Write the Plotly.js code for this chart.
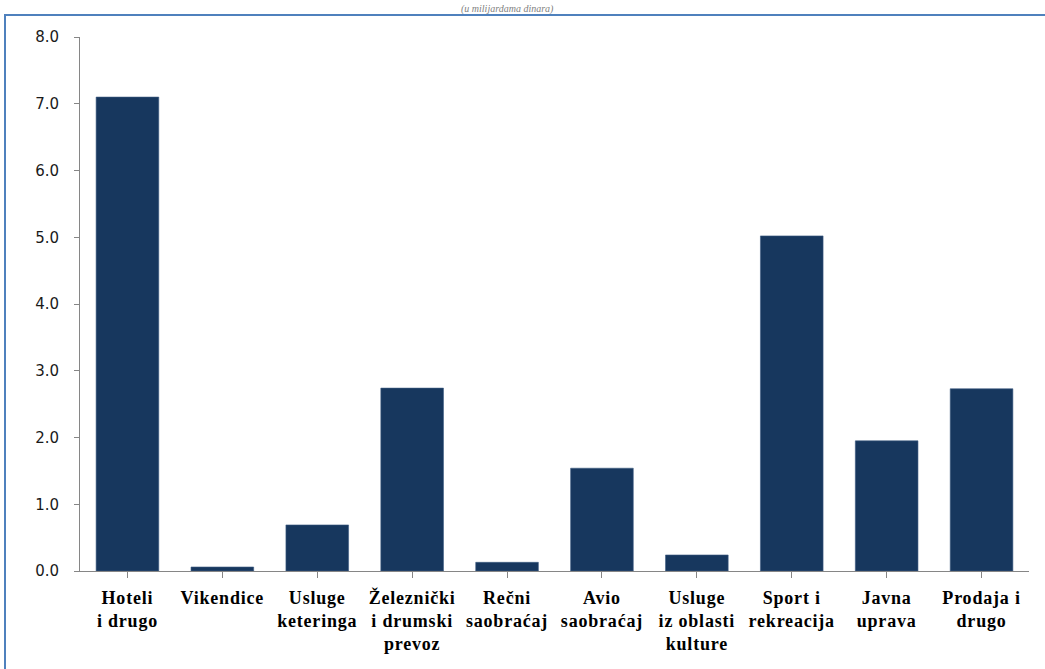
<!DOCTYPE html>
<html>
<head>
<meta charset="utf-8">
<script src="https://cdn.plot.ly/plotly-3.0.1.min.js"></script>
<style>
html, body { margin: 0; padding: 0; overflow: hidden; background: #ffffff; }
#chart { width: 1045px; height: 669px; position: absolute; left: 0; top: 0; }
#frame { position: absolute; left: 4px; top: 14px; width: 1200px; height: 900px;
  border-top: 2px solid #4F81BD; border-left: 2px solid #4F81BD; pointer-events: none; }
#chart .xtick text { letter-spacing: 0.8px; }
</style>
</head>
<body>
<div id="chart"></div>
<div id="frame"></div>
<script>
const categories = [
  "Hoteli<br>i drugo",
  "Vikendice",
  "Usluge<br>keteringa",
  "Železnički<br>i drumski<br>prevoz",
  "Rečni<br>saobraćaj",
  "Avio<br>saobraćaj",
  "Usluge<br>iz oblasti<br>kulture",
  "Sport i<br>rekreacija",
  "Javna<br>uprava",
  "Prodaja i<br>drugo"
];
const values = [7.10, 0.06, 0.69, 2.74, 0.13, 1.54, 0.24, 5.02, 1.95, 2.73];
const yTicks = [0, 1, 2, 3, 4, 5, 6, 7, 8];
const titleText = "(u milijardama dinara)";

const idx = categories.map((_, i) => i);

const trace = {
  type: "bar",
  x: idx,
  y: values,
  marker: { color: "#17375E", line: { color: "#3C5A82", width: 0.6 } },
  width: 0.66,
  hoverinfo: "skip"
};

const layout = {
  width: 1045,
  height: 669,
  margin: { l: 80, r: 16, t: 37, b: 98, pad: 0 },
  paper_bgcolor: "#ffffff",
  plot_bgcolor: "#ffffff",
  showlegend: false,
  font: { family: "Liberation Serif" },
  xaxis: {
    range: [-0.5, 9.5],
    tickmode: "array",
    tickvals: idx,
    ticktext: categories,
    tickson: "boundaries",
    ticks: "outside",
    ticklen: 6,
    tickcolor: "#868686",
    tickwidth: 1,
    showline: true,
    linecolor: "#868686",
    linewidth: 1,
    showgrid: false,
    zeroline: false,
    ticklabelstandoff: 4,
    tickfont: { family: "Liberation Serif", size: 18, color: "#000000", weight: 700 }
  },
  yaxis: {
    range: [0, 8],
    tickmode: "array",
    tickvals: yTicks,
    ticktext: yTicks.map(v => v.toFixed(1)),
    ticks: "outside",
    ticklen: 5,
    tickcolor: "#868686",
    tickwidth: 1,
    showline: true,
    linecolor: "#868686",
    linewidth: 1,
    showgrid: false,
    zeroline: false,
    ticklabelstandoff: 12,
    tickfont: { family: "DejaVu Sans", size: 15, color: "#1a1a1a" }
  },
  annotations: [{
    text: titleText,
    xref: "paper", yref: "paper",
    x: 0.45, y: 1.039,
    xanchor: "center", yanchor: "bottom",
    borderpad: 0,
    showarrow: false,
    font: { family: "Liberation Serif", size: 10, color: "#7f7f7f", style: "italic" }
  }]
};

Plotly.newPlot("chart", [trace], layout, { displayModeBar: false, staticPlot: true });
</script>
</body>
</html>
